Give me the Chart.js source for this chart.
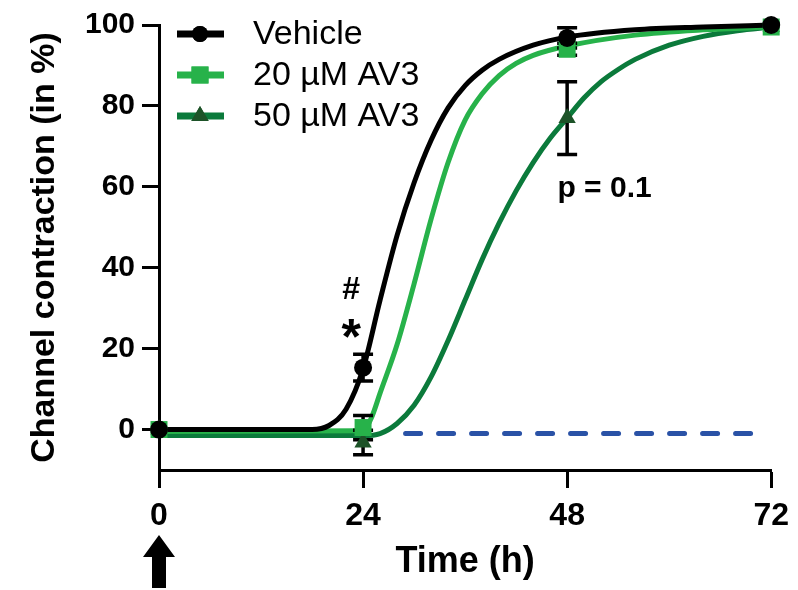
<!DOCTYPE html>
<html>
<head>
<meta charset="utf-8">
<script src="https://cdn.jsdelivr.net/npm/chart.js@4.4.1/dist/chart.umd.min.js"></script>
<style>
  html, body { margin: 0; padding: 0; background: #fff; }
  canvas { display: block; }
</style>
</head>
<body>
<canvas id="chart" width="798" height="590"></canvas>
<script>
// measured points (mean +/- error) at each time
const timeH = [0, 24, 48, 72];
const vehicleMean = [0, 15.3, 96.8, 100];
const vehicleErr = [0, 3.3, 2.5, 0];
const av20Mean = [0, 0.5, 94, 99.5];
const av20Err = [0, 3, 1.5, 0];
const av50Mean = [0, -3.2, 77, 99.5];
const av50Err = [0, 3, 9, 0];

// fitted curves
const vehicleFitX = [0, 18, 20, 22, 24, 26, 28, 30, 32, 34, 36, 38, 40, 44, 48, 56, 64, 72];
const vehicleFitY = [0, 0, 1, 5, 15, 32, 48, 61, 71.5, 79.5, 85, 88.8, 91.5, 95, 97, 98.8, 99.5, 100];
const av20FitX = [0, 24, 25, 26, 28, 30, 32, 34, 36, 38, 40, 42, 44, 48, 56, 64, 72];
const av20FitY = [-0.5, -0.3, 3, 9, 21, 36, 52, 66, 76.5, 83, 87.5, 90.5, 92.5, 94.8, 97.5, 98.8, 99.5];
const av50FitX = [0, 24, 26, 28, 30, 32, 34, 36, 38, 40, 42, 44, 46, 48, 50, 52, 54, 56, 60, 64, 68, 72];
const av50FitY = [-1.5, -1.5, -1, 1.5, 6, 13, 22, 32, 42, 51, 59, 66, 72, 77, 82, 86, 89, 91.5, 95, 97.2, 98.6, 99.5];

// blue dashed reference line
const dashX = [29, 70];
const dashY = [-1, -1];

const xTicks = [0, 24, 48, 72];
const yTicks = [0, 20, 40, 60, 80, 100];

const FONT = "'Liberation Sans', Arial, sans-serif";
const BLACK = '#000000';
const LIGHT_GREEN = '#27b24a';
const DARK_GREEN = '#0b7a3b';
const TRIANGLE = '#1d5328';
const BLUE = '#2a52a6';

const toXY = (xs, ys) => xs.map((x, i) => ({ x: x, y: ys[i] }));

// error bars drawn after the curves, under the markers
const errorBars = {
    id: 'errorBars',
    afterDatasetDraw(chart, args) {
        if (args.index !== 3) return;
        const { ctx, scales: { x, y } } = chart;
        const groups = [
            [vehicleMean, vehicleErr],
            [av20Mean, av20Err],
            [av50Mean, av50Err],
        ];
        ctx.save();
        ctx.strokeStyle = BLACK;
        ctx.lineWidth = 3.5;
        groups.forEach(([mean, err]) => {
            timeH.forEach((t, i) => {
                if (!err[i]) return;
                const px = x.getPixelForValue(t);
                const top = y.getPixelForValue(mean[i] + err[i]);
                const bot = y.getPixelForValue(mean[i] - err[i]);
                ctx.beginPath();
                ctx.moveTo(px, top); ctx.lineTo(px, bot);
                ctx.moveTo(px - 10, top); ctx.lineTo(px + 10, top);
                ctx.moveTo(px - 10, bot); ctx.lineTo(px + 10, bot);
                ctx.stroke();
            });
        });
        ctx.restore();
    }
};

// legend, significance marks and the treatment arrow
const extras = {
    id: 'extras',
    afterDraw(chart) {
        const { ctx, scales: { x, y } } = chart;
        ctx.save();

        const rows = [
            { text: 'Vehicle', line: BLACK, fill: BLACK, style: 'circle', r: 8 },
            { text: '20 \u00b5M AV3', line: LIGHT_GREEN, fill: LIGHT_GREEN, style: 'rect', r: 12 },
            { text: '50 \u00b5M AV3', line: DARK_GREEN, fill: TRIANGLE, style: 'triangle', r: 10 },
        ];
        rows.forEach((row, i) => {
            const cy = 34 + i * 41;
            ctx.strokeStyle = row.line;
            ctx.lineWidth = 7;
            ctx.beginPath();
            ctx.moveTo(177, cy); ctx.lineTo(224, cy);
            ctx.stroke();
            ctx.fillStyle = row.fill;
            Chart.helpers.drawPoint(ctx, { pointStyle: row.style, radius: row.r, borderWidth: 0, rotation: 0 }, 200, cy);
            ctx.fill();
            ctx.fillStyle = BLACK;
            ctx.font = '34px ' + FONT;
            ctx.textAlign = 'left';
            ctx.textBaseline = 'middle';
            ctx.fillText(row.text, 253, cy + 1);
        });

        ctx.fillStyle = BLACK;
        ctx.textAlign = 'center';
        ctx.textBaseline = 'middle';
        ctx.font = 'bold 32px ' + FONT;
        ctx.fillText('#', x.getPixelForValue(22.6), y.getPixelForValue(34.5));
        ctx.font = 'bold 50px ' + FONT;
        ctx.fillText('*', x.getPixelForValue(22.6), y.getPixelForValue(22));
        ctx.font = 'bold 30px ' + FONT;
        ctx.fillText('p = 0.1', x.getPixelForValue(52.4), y.getPixelForValue(59.5));

        // upward arrow under time 0
        const ax = x.getPixelForValue(0);
        ctx.beginPath();
        ctx.moveTo(ax, 535);
        ctx.lineTo(ax + 16, 557);
        ctx.lineTo(ax + 7, 557);
        ctx.lineTo(ax + 7, 588);
        ctx.lineTo(ax - 7, 588);
        ctx.lineTo(ax - 7, 557);
        ctx.lineTo(ax - 16, 557);
        ctx.closePath();
        ctx.fill();

        ctx.restore();
    }
};

const curve = (data, color, order) => ({
    data: data,
    showLine: true,
    borderColor: color,
    borderWidth: 5,
    pointRadius: 0,
    cubicInterpolationMode: 'monotone',
    clip: false,
    order: order,
});

const markers = (data, color, style, r, order) => ({
    data: data,
    showLine: false,
    pointStyle: style,
    pointRadius: r,
    pointBackgroundColor: color,
    pointBorderWidth: 0,
    clip: false,
    order: order,
});

new Chart(document.getElementById('chart'), {
    type: 'scatter',
    data: {
        datasets: [
            {
                data: toXY(dashX, dashY),
                showLine: true,
                borderColor: BLUE,
                borderWidth: 5,
                borderDash: [15, 18],
                borderCapStyle: 'round',
                pointRadius: 0,
                order: 10,
            },
            curve(toXY(av50FitX, av50FitY), DARK_GREEN, 9),
            curve(toXY(av20FitX, av20FitY), LIGHT_GREEN, 8),
            curve(toXY(vehicleFitX, vehicleFitY), BLACK, 7),
            markers(toXY(timeH, av50Mean), TRIANGLE, 'triangle', 10, 3),
            markers(toXY(timeH, av20Mean), LIGHT_GREEN, 'rect', 12, 2),
            markers(toXY(timeH, vehicleMean), BLACK, 'circle', 9, 1),
        ],
    },
    options: {
        responsive: false,
        animation: false,
        devicePixelRatio: 1,
        layout: { padding: { top: 23, right: 22, left: 0, bottom: 0 } },
        plugins: {
            legend: { display: false },
            tooltip: { enabled: false },
        },
        scales: {
            x: {
                type: 'linear',
                min: 0,
                max: 72,
                afterBuildTicks: (scale) => { scale.ticks = xTicks.map(v => ({ value: v })); },
                afterFit: (scale) => { scale.height = 120; },
                border: { display: true, color: BLACK, width: 3 },
                grid: { drawOnChartArea: false, drawTicks: true, tickLength: 18, tickWidth: 3, tickColor: BLACK },
                ticks: { color: BLACK, padding: 9, maxRotation: 0, font: { family: FONT, size: 32, weight: 'bold' } },
                title: {
                    display: true,
                    text: 'Time (h)',
                    color: BLACK,
                    padding: { top: 0, bottom: 6 },
                    font: { family: FONT, size: 36, weight: 'bold' },
                },
            },
            y: {
                type: 'linear',
                min: -10,
                max: 100,
                afterBuildTicks: (scale) => { scale.ticks = yTicks.map(v => ({ value: v })); },
                afterFit: (scale) => { scale.width = 159; },
                border: { display: true, color: BLACK, width: 3 },
                grid: { drawOnChartArea: false, drawTicks: true, tickLength: 17, tickWidth: 3, tickColor: BLACK },
                ticks: { color: BLACK, padding: 7, font: { family: FONT, size: 30, weight: 'bold' } },
                title: {
                    display: true,
                    text: 'Channel contraction (in %)',
                    color: BLACK,
                    padding: { top: 24, bottom: 0 },
                    font: { family: FONT, size: 34, weight: 'bold' },
                },
            },
        },
    },
    plugins: [errorBars, extras],
});
</script>
</body>
</html>
